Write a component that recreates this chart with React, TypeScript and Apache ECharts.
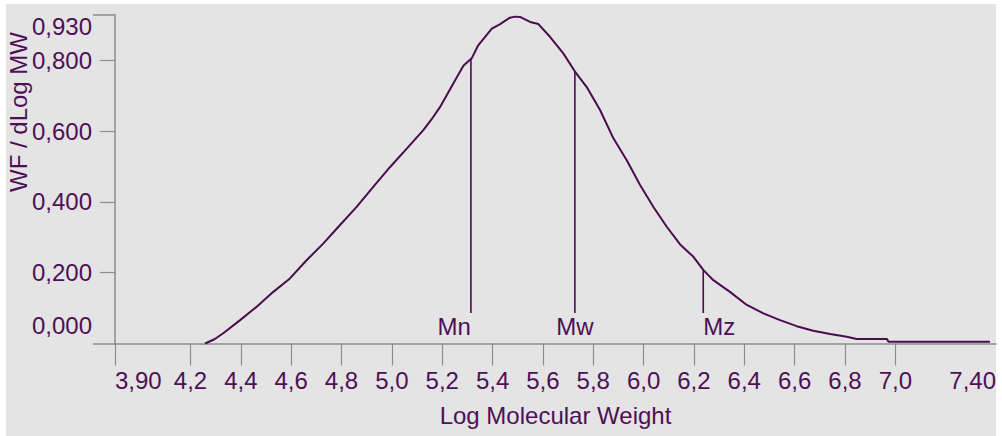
import React, { useEffect, useRef } from "react";
import * as echarts from "echarts";

// Curve: Log MW vs WF / dLog MW
const logMW = [
  4.258, 4.295, 4.330, 4.397, 4.463, 4.529, 4.595, 4.662, 4.728, 4.794, 4.860,
  4.926, 4.993, 5.059, 5.125, 5.158, 5.191, 5.244, 5.284, 5.317, 5.343, 5.397, 5.430,
  5.469, 5.490, 5.509, 5.549, 5.582, 5.628, 5.681, 5.728, 5.774, 5.827, 5.880,
  5.933, 5.986, 6.039, 6.092, 6.145, 6.198, 6.237, 6.277, 6.343, 6.410, 6.476,
  6.542, 6.608, 6.674, 6.741, 6.807, 6.847, 6.966, 6.973, 7.376,
];
const wf = [
  0.000, 0.012, 0.029, 0.066, 0.104, 0.146, 0.184, 0.236, 0.283, 0.335, 0.386,
  0.443, 0.499, 0.551, 0.603, 0.634, 0.668, 0.735, 0.785, 0.806, 0.843, 0.890, 0.903,
  0.921, 0.924, 0.923, 0.909, 0.903, 0.867, 0.820, 0.768, 0.725, 0.660, 0.580,
  0.518, 0.448, 0.386, 0.330, 0.280, 0.245, 0.208, 0.179, 0.146, 0.109, 0.085,
  0.066, 0.049, 0.036, 0.027, 0.019, 0.013, 0.013, 0.005, 0.005,
];

// Average markers
const markerNames = ["Mn", "Mw", "Mz"];
const markerX = [5.314, 5.727, 6.237];
const markerTop = [0.806, 0.770, 0.208];
const markerBase = 0.086;

// Axis ticks / labels
const xTickValues = [3.9, 4.2, 4.4, 4.6, 4.8, 5.0, 5.2, 5.4, 5.6, 5.8, 6.0, 6.2, 6.4, 6.6, 6.8, 7.0];
const xLabelValues = [3.9, 4.2, 4.4, 4.6, 4.8, 5.0, 5.2, 5.4, 5.6, 5.8, 6.0, 6.2, 6.4, 6.6, 6.8, 7.0, 7.4];
const xLabelTwoDecimals = [3.9, 7.4];
const yTickValues = [0.2, 0.4, 0.6, 0.8];
const yEndTickValues = [0, 0.93];
const yLabelValues = [0, 0.2, 0.4, 0.6, 0.8, 0.93];
const X_MIN = 3.9;
const X_MAX = 7.4;
const Y_MIN = 0;
const Y_MAX = 0.93;

export default function App() {
  const ref = useRef<HTMLDivElement>(null);

  useEffect(() => {
    if (!ref.current) return;
    const chart = echarts.init(ref.current, undefined, { renderer: "svg" });
    const purple = "#4f0f57";
    const lineColor = "#4b0c4f";
    const axisColor = "#8c8c8c";
    const font = "Liberation Sans, Arial, sans-serif";
    const alignMap: Record<string, string> = { Mn: "right", Mw: "center", Mz: "left" };

    const fmtX = (v: number) => {
      const two = xLabelTwoDecimals.some((t) => Math.abs(t - v) < 1e-9);
      return v.toFixed(two ? 2 : 1).replace(".", ",");
    };

    const markerSeries = markerNames.map((n, i) => ({
      type: "line",
      name: n,
      xAxisIndex: 0,
      yAxisIndex: 0,
      showSymbol: false,
      symbol: "none",
      lineStyle: { color: lineColor, width: 1.6 },
      data: [
        [markerX[i], markerBase],
        [markerX[i], markerTop[i]],
      ],
      z: 3,
    }));

    chart.setOption({
      animation: false,
      backgroundColor: "#e4e4e4",
      textStyle: { fontFamily: font },
      graphic: [
        { type: "rect", shape: { x: 0, y: 0, width: 6, height: 436 }, style: { fill: "#ffffff" }, silent: true },
        { type: "rect", shape: { x: 0, y: 0, width: 1002, height: 4 }, style: { fill: "#ffffff" }, silent: true },
        { type: "rect", shape: { x: 996, y: 0, width: 6, height: 436 }, style: { fill: "#ffffff" }, silent: true },
        {
          type: "text",
          x: 18,
          y: 112,
          rotation: Math.PI / 2,
          style: {
            text: "WF / dLog MW",
            fill: purple,
            font: `24px ${font}`,
            textAlign: "center",
            textVerticalAlign: "middle",
          },
          silent: true,
        },
      ],
      grid: { left: 115, right: 6, top: 14.5, bottom: 92.5, containLabel: false },
      xAxis: {
        type: "value",
        min: X_MIN,
        max: X_MAX,
        axisLine: { show: true, onZero: false, lineStyle: { color: axisColor, width: 1.5 } },
        axisTick: { show: true, customValues: xTickValues, length: 22, lineStyle: { color: axisColor, width: 1.2 } },
        axisLabel: {
          customValues: xLabelValues,
          formatter: fmtX,
          margin: 25,
          color: purple,
          fontSize: 24,
          fontFamily: font,
          alignMinLabel: "left",
          alignMaxLabel: "right",
          showMinLabel: true,
          showMaxLabel: true,
        },
        splitLine: { show: false },
        name: "Log Molecular Weight",
        nameLocation: "middle",
        nameGap: 60,
        nameTextStyle: { color: purple, fontSize: 24, fontFamily: font },
      },
      yAxis: [
        {
          type: "value",
          min: Y_MIN,
          max: Y_MAX,
          position: "left",
          axisLine: { show: true, onZero: false, lineStyle: { color: axisColor, width: 1.5 } },
          axisTick: { show: true, customValues: yTickValues, length: 15, lineStyle: { color: axisColor, width: 1.2 } },
          axisLabel: {
            customValues: yLabelValues,
            formatter: (v: number) =>
              v === Y_MIN ? `{lo|${v.toFixed(3).replace(".", ",")}}` : v.toFixed(3).replace(".", ","),
            rich: {
              lo: { color: purple, fontSize: 24, fontFamily: font, padding: [0, 0, 6, 0] },
            },
            margin: 23,
            color: purple,
            fontSize: 24,
            fontFamily: font,
            verticalAlignMinLabel: "bottom",
            verticalAlignMaxLabel: "top",
            showMinLabel: true,
            showMaxLabel: true,
          },
          splitLine: { show: false },
        },
        {
          type: "value",
          min: Y_MIN,
          max: Y_MAX,
          position: "left",
          axisLine: { show: false },
          axisTick: { show: true, customValues: yEndTickValues, length: 22, lineStyle: { color: axisColor, width: 1.5 } },
          axisLabel: { show: false },
          splitLine: { show: false },
        },
      ],
      series: [
        {
          type: "line",
          name: "WF",
          xAxisIndex: 0,
          yAxisIndex: 0,
          showSymbol: false,
          symbol: "none",
          lineStyle: { color: lineColor, width: 2 },
          data: logMW.map((x, i) => [x, wf[i]]),
          z: 3,
        },
        ...markerSeries,
        {
          type: "scatter",
          name: "labels",
          xAxisIndex: 0,
          yAxisIndex: 0,
          symbolSize: 0,
          silent: true,
          itemStyle: { opacity: 1, color: purple },
          data: markerNames.map((n, i) => ({
            name: n,
            value: [markerX[i], markerBase],
            label: { align: alignMap[n] },
          })),
          label: {
            show: true,
            position: "bottom",
            distance: 1,
            formatter: "{b}",
            color: purple,
            opacity: 1,
            fontSize: 24,
            fontFamily: font,
          },
          z: 4,
        },
      ],
    });

    return () => chart.dispose();
  }, []);

  return (
    <div
      ref={ref}
      style={{ position: "fixed", left: 0, top: 0, width: 1002, height: 436 }}
    />
  );
}
